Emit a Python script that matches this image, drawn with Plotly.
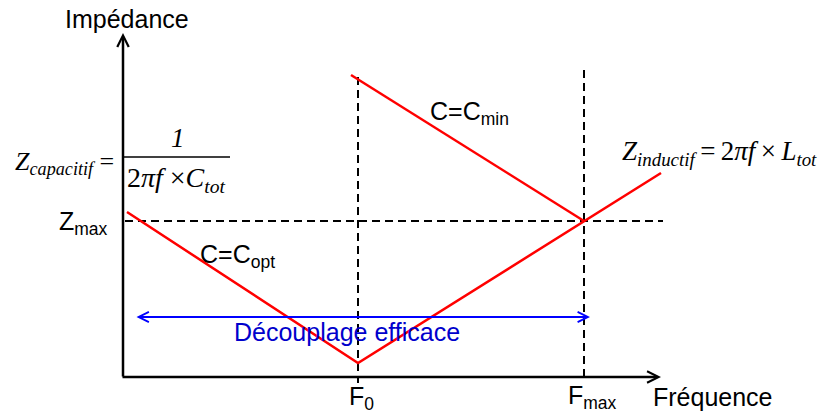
import plotly.graph_objects as go

# frequency / impedance values (arbitrary units)
F0 = 235
FMAX = 461
ZMAX = 156

copt_f = [4, 235, 538]
copt_z = [165, 14, 204]
cmin_f = [228, 461]
cmin_z = [302, 156]

zmax_line_f = [2, 540]
f0_line_z = [300, -6]
fmax_line_z = [307, 0]
band_f = [12, 467]
band_z = 60

tick_vals = [F0, FMAX]
tick_text = ["F<sub>0</sub>", "F<sub>max</sub>"]

SANS = "Liberation Sans, Arial, sans-serif"
SERIF = "Liberation Serif, Times New Roman, serif"
dash = "8px,5px"
THIN = "\u2009"

fig = go.Figure()

# dashed guide lines
fig.add_trace(go.Scatter(x=zmax_line_f, y=[ZMAX, ZMAX], mode="lines",
                         line=dict(color="black", width=2, dash=dash)))
fig.add_trace(go.Scatter(x=[F0, F0], y=f0_line_z, mode="lines",
                         line=dict(color="black", width=2, dash=dash)))
fig.add_trace(go.Scatter(x=[FMAX, FMAX], y=fmax_line_z, mode="lines",
                         line=dict(color="black", width=2, dash=dash)))

# impedance curves
fig.add_trace(go.Scatter(x=copt_f, y=copt_z, mode="lines",
                         line=dict(color="#ff0000", width=2.5)))
fig.add_trace(go.Scatter(x=cmin_f, y=cmin_z, mode="lines",
                         line=dict(color="#ff0000", width=2.5)))

annotations = []

# axes with arrow heads
annotations.append(dict(x=0, y=344, ax=0, ay=-1, xref="x", yref="y", axref="x", ayref="y",
                        text="", showarrow=True, arrowhead=5, arrowsize=0.9,
                        arrowwidth=2.5, arrowcolor="black", standoff=0))
annotations.append(dict(x=538, y=0, ax=-2, ay=0, xref="x", yref="y", axref="x", ayref="y",
                        text="", showarrow=True, arrowhead=5, arrowsize=0.9,
                        arrowwidth=2.5, arrowcolor="black", standoff=0))

# effective decoupling band
annotations.append(dict(x=band_f[1], y=band_z, ax=band_f[0], ay=band_z,
                        xref="x", yref="y", axref="x", ayref="y",
                        text="", showarrow=True, arrowhead=5, startarrowhead=5,
                        arrowside="end+start", arrowsize=1, arrowwidth=2,
                        arrowcolor="#0000ff", standoff=0, startstandoff=0))

def label(x, y, text, size=25, color="black", family=SANS, xanchor="center"):
    annotations.append(dict(x=x, y=y, xref="x", yref="y", text=text, showarrow=False,
                            xanchor=xanchor, yanchor="middle",
                            font=dict(family=family, size=size, color=color)))

label(3.5, 358, "Impédance")
label(590, -20, "Fréquence")
label(tick_vals[0] + 3, -21, tick_text[0])
label(tick_vals[1] + 8, -20, tick_text[1])
label(-13, ZMAX - 2, "Z<sub>max</sub>", xanchor="right")
label(305, 264, "C=C<sub>min</sub>", xanchor="left")
label(75, 121, "C=C<sub>opt</sub>", xanchor="left")
label(224, 45, "Découplage efficace", color="#0000cc")

# formulas
label(497, 224, "<i>Z</i><sub><i>inductif</i></sub>" + THIN + "=" + THIN + "2<i>πf</i>" + THIN + "×" + THIN + "<i>L</i><sub><i>tot</i></sub>",
      size=27, family=SERIF, xanchor="left")
label(-110, 214, "<i>Z</i><sub><i>capacitif</i></sub> =", size=26, family=SERIF, xanchor="left")
label(55, 239, "<i>1</i>", size=27, family=SERIF)
label(2, 198, "2<i>πf</i> ×<i>C</i><sub><i>tot</i></sub>", size=28, family=SERIF, xanchor="left")

fig.add_shape(type="line", x0=0, x1=107, y0=220, y1=220, xref="x", yref="y",
              line=dict(color="black", width=1.5))

fig.update_layout(
    width=822, height=414,
    margin=dict(l=0, r=0, t=0, b=0),
    paper_bgcolor="white", plot_bgcolor="white",
    showlegend=False,
    annotations=annotations,
    xaxis=dict(range=[-123, 699], visible=False, fixedrange=True),
    yaxis=dict(range=[-37, 377], visible=False, fixedrange=True),
)

# drop the default page margin so the figure fills the window
fig.write_html("out.html", config={"displayModeBar": False},
               post_script="document.body.style.margin='0';")
